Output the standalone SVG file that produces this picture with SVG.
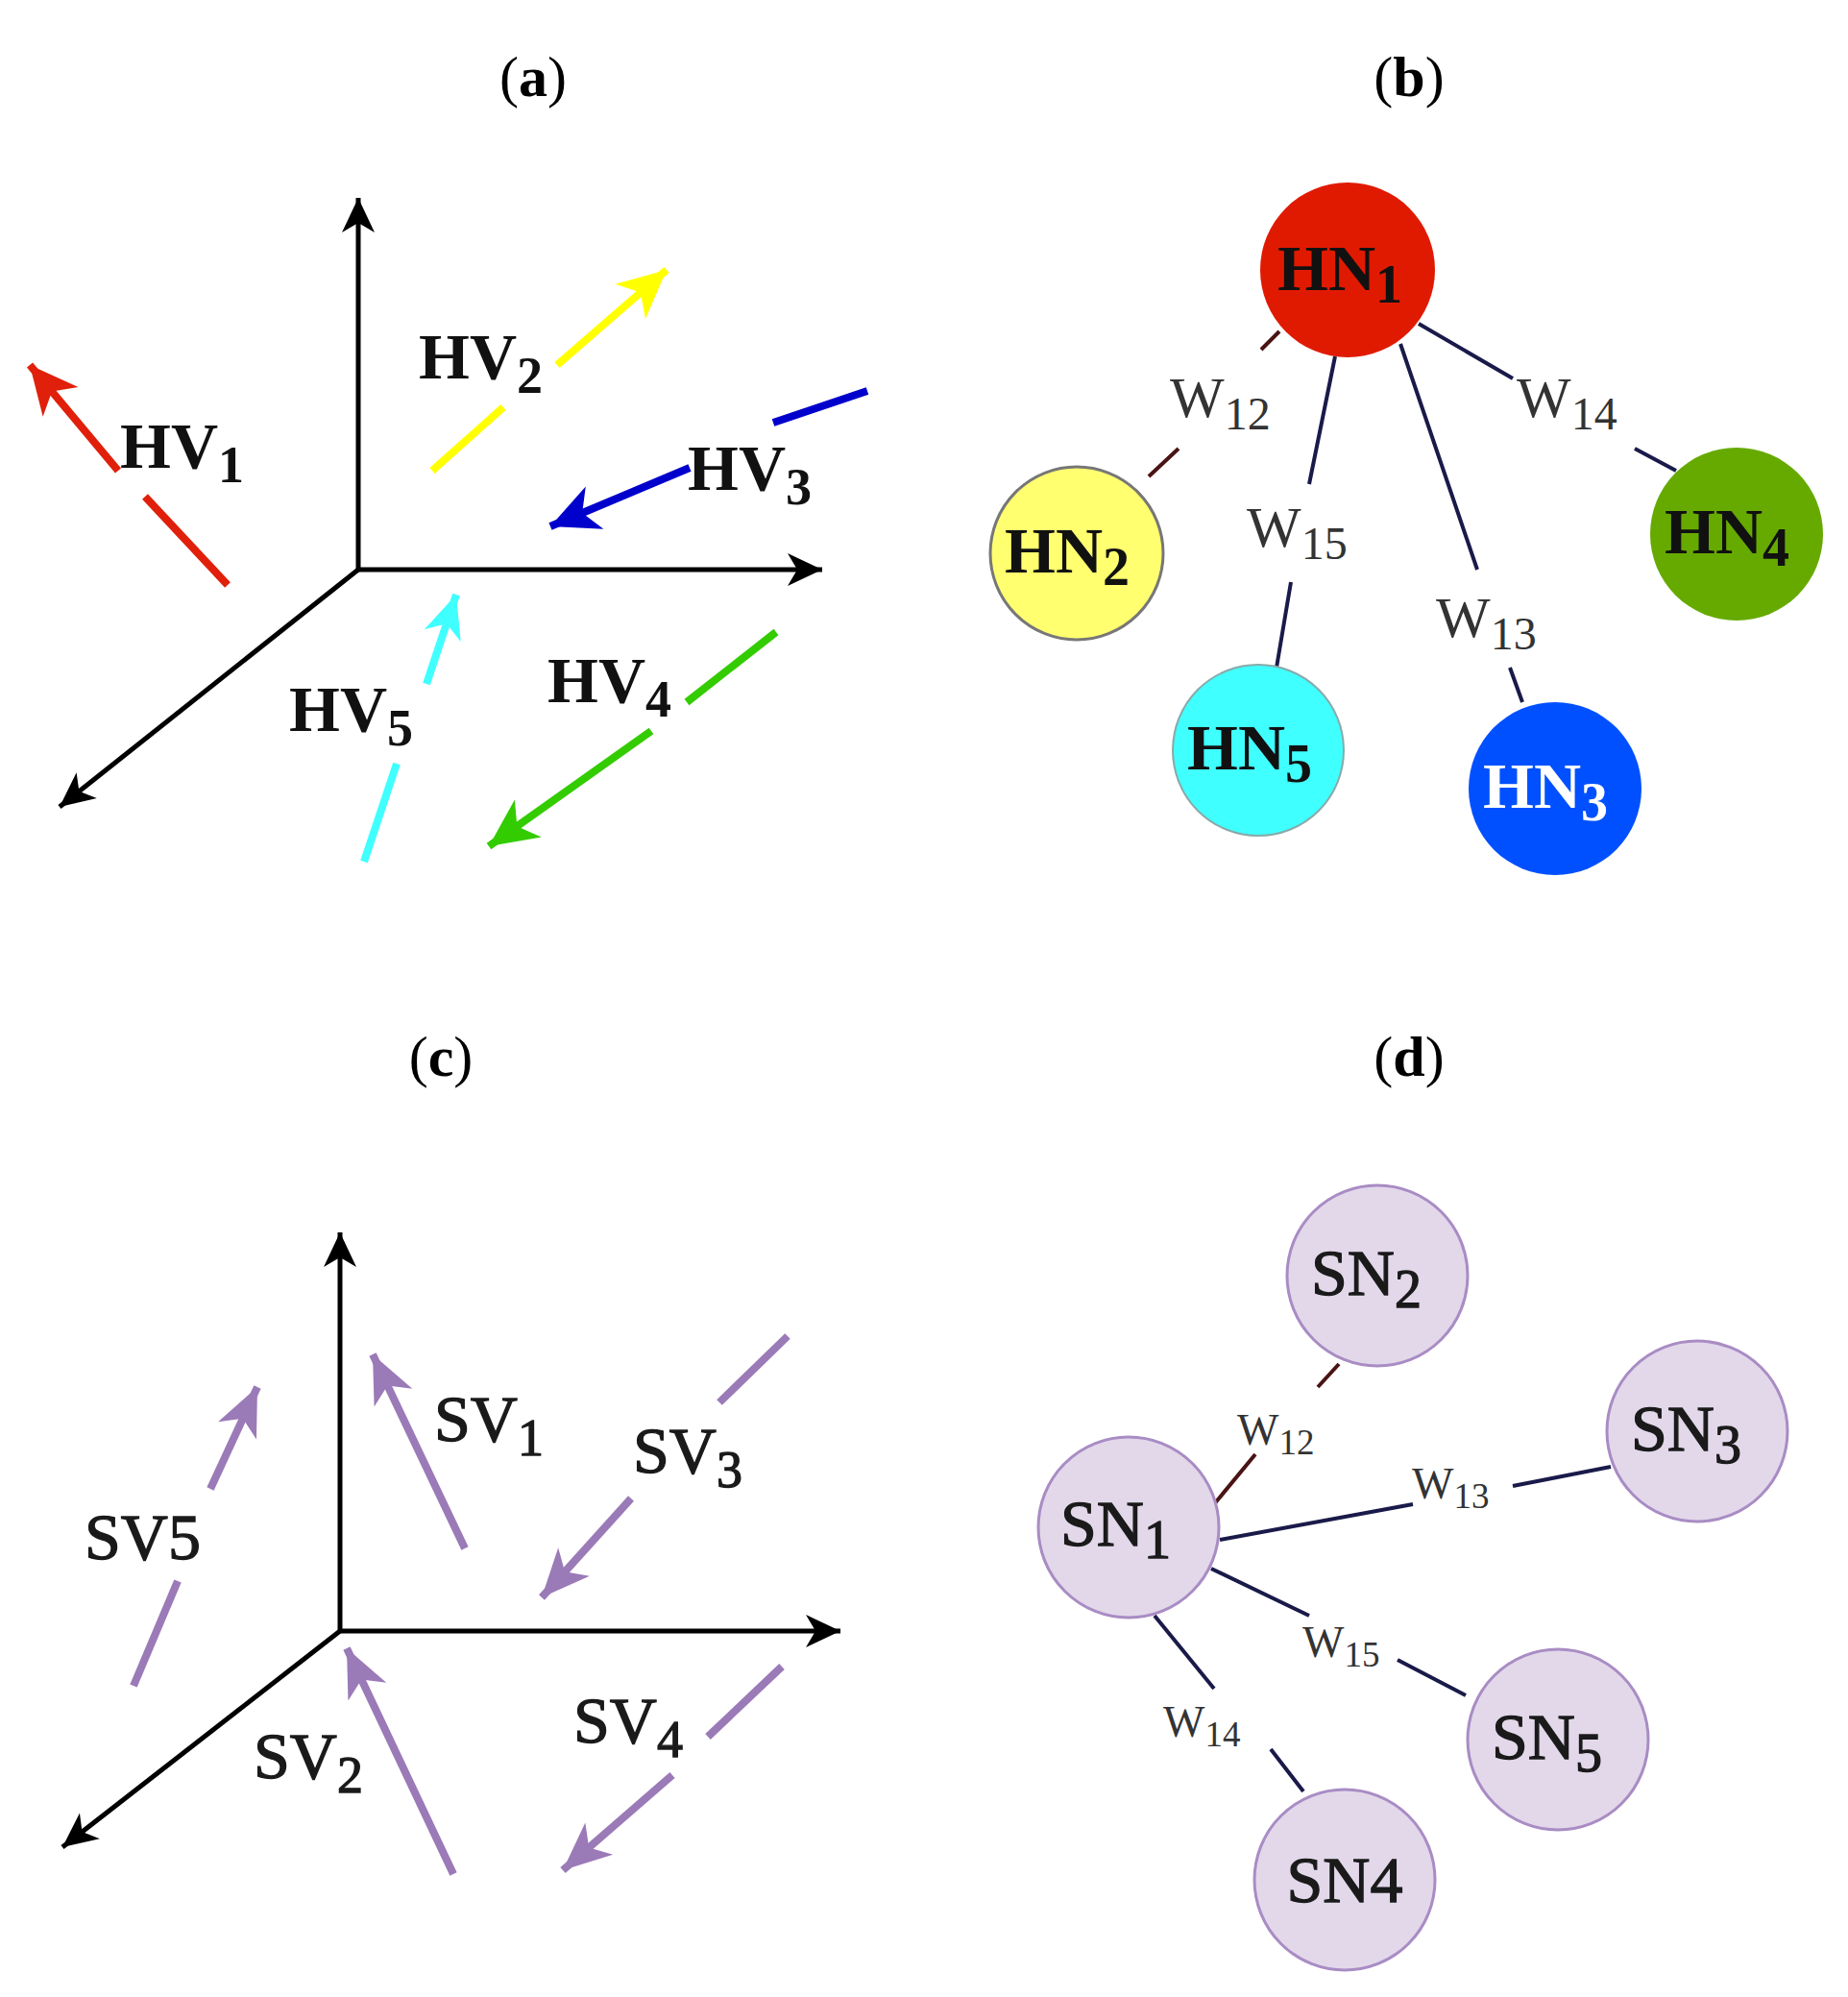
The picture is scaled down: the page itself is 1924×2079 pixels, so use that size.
<svg xmlns="http://www.w3.org/2000/svg" width="1924" height="2079" viewBox="0 0 1924 2079">
<style>
.t{font-family:"Liberation Serif",serif;font-size:60px;fill:#000;text-anchor:middle}
.tb{font-weight:bold}
.lb{font-family:"Liberation Serif",serif;font-size:68px;font-weight:bold;fill:#111}
.ls{font-family:"Liberation Serif",serif;font-size:68px;fill:#1a1a1a;stroke:#1a1a1a;stroke-width:1.3}
.w{font-family:"Liberation Serif",serif;font-size:60px;fill:#333}
.ws{font-family:"Liberation Serif",serif;font-size:46px;fill:#333}
.ax{stroke:#000;stroke-width:5;fill:none}
.v{fill:none;stroke-width:8;stroke-linecap:butt}
.e{stroke:#1a1a4a;stroke-width:4;fill:none}
.eb{stroke:#4a1414;stroke-width:4;fill:none}
.sn{fill:#e2d8ea;stroke:#a98cc4;stroke-width:3}
</style>
<defs>
<marker id="ak" markerUnits="userSpaceOnUse" viewBox="-40 -20 42 40" markerWidth="42" markerHeight="40" refX="0" refY="0" orient="auto"><path d="M0,0 L-36,-17 L-26,0 L-36,17 Z" fill="#000"/></marker>
<marker id="ar" markerUnits="userSpaceOnUse" viewBox="-55 -27 57 54" markerWidth="57" markerHeight="54" refX="0" refY="0" orient="auto"><path d="M0,0 L-50,-24 L-36,0 L-50,24 Z" fill="#e0200a"/></marker>
<marker id="ay" markerUnits="userSpaceOnUse" viewBox="-55 -27 57 54" markerWidth="57" markerHeight="54" refX="0" refY="0" orient="auto"><path d="M0,0 L-50,-24 L-36,0 L-50,24 Z" fill="#ffff00"/></marker>
<marker id="abl" markerUnits="userSpaceOnUse" viewBox="-55 -27 57 54" markerWidth="57" markerHeight="54" refX="0" refY="0" orient="auto"><path d="M0,0 L-50,-24 L-36,0 L-50,24 Z" fill="#0000cc"/></marker>
<marker id="ag" markerUnits="userSpaceOnUse" viewBox="-55 -27 57 54" markerWidth="57" markerHeight="54" refX="0" refY="0" orient="auto"><path d="M0,0 L-50,-24 L-36,0 L-50,24 Z" fill="#33cc00"/></marker>
<marker id="ac" markerUnits="userSpaceOnUse" viewBox="-55 -27 57 54" markerWidth="57" markerHeight="54" refX="0" refY="0" orient="auto"><path d="M0,0 L-45,-20 L-32,0 L-45,20 Z" fill="#40ffff"/></marker>
<marker id="ap" markerUnits="userSpaceOnUse" viewBox="-55 -27 57 54" markerWidth="57" markerHeight="54" refX="0" refY="0" orient="auto"><path d="M0,0 L-50,-22 L-36,0 L-50,22 Z" fill="#9b7ab8"/></marker>
</defs>

<!-- titles -->
<text class="t" x="555" y="100">(<tspan class="tb">a</tspan>)</text>
<text class="t" x="1467" y="100">(<tspan class="tb">b</tspan>)</text>
<text class="t" x="459" y="1120">(<tspan class="tb">c</tspan>)</text>
<text class="t" x="1467" y="1120">(<tspan class="tb">d</tspan>)</text>

<!-- panel a -->
<g id="panel-a">
<path class="ax" d="M373,593 L373,206" marker-end="url(#ak)"/>
<path class="ax" d="M373,593 L856,593" marker-end="url(#ak)"/>
<path class="ax" d="M373,593 L62,840" marker-end="url(#ak)"/>
<path class="v" stroke="#e0200a" d="M237,609 L151,517"/>
<path class="v" stroke="#e0200a" d="M123,490 L31,380" marker-end="url(#ar)"/>
<text class="lb" x="125" y="487">HV<tspan font-size="54" dy="15">1</tspan></text>
<path class="v" stroke="#ffff00" d="M450,490 L524,424"/>
<path class="v" stroke="#ffff00" d="M580,380 L694,281" marker-end="url(#ay)"/>
<text class="lb" x="436" y="394">HV<tspan font-size="54" dy="15">2</tspan></text>
<path class="v" stroke="#0000cc" d="M903,407 L805,440"/>
<path class="v" stroke="#0000cc" d="M718,487 L573,548" marker-end="url(#abl)"/>
<text class="lb" x="716" y="510">HV<tspan font-size="54" dy="15">3</tspan></text>
<path class="v" stroke="#33cc00" d="M808,658 L715,731"/>
<path class="v" stroke="#33cc00" d="M678,761 L509,881" marker-end="url(#ag)"/>
<text class="lb" x="570" y="731">HV<tspan font-size="54" dy="15">4</tspan></text>
<path class="v" stroke="#40ffff" stroke-width="7" d="M379,897 L413,795"/>
<path class="v" stroke="#40ffff" stroke-width="7" d="M444,712 L475,619" marker-end="url(#ac)"/>
<text class="lb" x="301" y="761">HV<tspan font-size="54" dy="15">5</tspan></text>
</g>

<!-- panel b -->
<g id="edges-b">
<path class="eb" d="M1332,345 L1313,364 M1227,467 L1196,496"/>
<path class="e" d="M1390,371 L1363,504 M1344,606 L1329,695"/>
<path class="e" d="M1458,358 L1538,593 M1572,695 L1585,731"/>
<path class="e" d="M1477,337 L1575,394 M1702,467 L1745,490"/>
<text class="w" x="1218" y="434">W<tspan font-size="48" dy="13">12</tspan></text>
<text class="w" x="1298" y="569">W<tspan font-size="48" dy="13">15</tspan></text>
<text class="w" x="1495" y="663">W<tspan font-size="48" dy="13">13</tspan></text>
<text class="w" x="1579" y="434">W<tspan font-size="48" dy="13">14</tspan></text>
</g>
<g id="HN1"><circle cx="1403" cy="281" r="91" fill="#e01a00"/><text class="lb" x="1330" y="302">HN<tspan font-size="56" dy="13">1</tspan></text></g>
<g id="HN2"><circle cx="1121" cy="576" r="90" fill="#ffff70" stroke="#777" stroke-width="3"/><text class="lb" x="1046" y="596">HN<tspan font-size="56" dy="13">2</tspan></text></g>
<g id="HN5"><circle cx="1310" cy="781" r="89" fill="#40ffff" stroke="#8aa" stroke-width="2"/><text class="lb" x="1236" y="801">HN<tspan font-size="56" dy="13">5</tspan></text></g>
<g id="HN3"><circle cx="1619" cy="821" r="90" fill="#0050ff"/><text class="lb" x="1544" y="841" style="fill:#fff">HN<tspan font-size="56" dy="13">3</tspan></text></g>
<g id="HN4"><circle cx="1808" cy="556" r="90" fill="#66aa00"/><text class="lb" x="1733" y="576">HN<tspan font-size="56" dy="13">4</tspan></text></g>

<!-- panel c -->
<g id="panel-c">
<path class="ax" d="M354,1698 L354,1283" marker-end="url(#ak)"/>
<path class="ax" d="M354,1698 L875,1698" marker-end="url(#ak)"/>
<path class="ax" d="M354,1698 L65,1923" marker-end="url(#ak)"/>
<path class="v" stroke="#9b7ab8" d="M484,1612 L388,1410" marker-end="url(#ap)"/>
<text class="ls" x="452" y="1500">SV<tspan font-size="54" dy="15">1</tspan></text>
<path class="v" stroke="#9b7ab8" d="M820,1391 L749,1460"/>
<path class="v" stroke="#9b7ab8" d="M657,1560 L564,1663" marker-end="url(#ap)"/>
<text class="ls" x="659" y="1533">SV<tspan font-size="54" dy="15">3</tspan></text>
<path class="v" stroke="#9b7ab8" d="M139,1755 L185,1646"/>
<path class="v" stroke="#9b7ab8" d="M219,1550 L268,1444" marker-end="url(#ap)"/>
<text class="ls" x="88" y="1623">SV5</text>
<path class="v" stroke="#9b7ab8" stroke-width="5" d="M472,1951 L361,1716" marker-end="url(#ap)"/>
<text class="ls" x="264" y="1851">SV<tspan font-size="54" dy="15">2</tspan></text>
<path class="v" stroke="#9b7ab8" d="M814,1735 L737,1808"/>
<path class="v" stroke="#9b7ab8" d="M700,1848 L586,1947" marker-end="url(#ap)"/>
<text class="ls" x="597" y="1814">SV<tspan font-size="54" dy="15">4</tspan></text>
</g>

<!-- panel d -->
<g id="edges-d">
<path class="eb" d="M1394,1420 L1372,1444 M1307,1514 L1264,1566"/>
<path class="e" d="M1270,1603 L1471,1566 M1575,1547 L1677,1527"/>
<path class="e" d="M1261,1633 L1363,1682 M1455,1728 L1526,1765"/>
<path class="e" d="M1202,1682 L1264,1758 M1323,1821 L1357,1865"/>
<text class="ws" x="1288" y="1504">W<tspan font-size="37" dy="10">12</tspan></text>
<text class="ws" x="1470" y="1560">W<tspan font-size="37" dy="10">13</tspan></text>
<text class="ws" x="1356" y="1725">W<tspan font-size="37" dy="10">15</tspan></text>
<text class="ws" x="1211" y="1808">W<tspan font-size="37" dy="10">14</tspan></text>
</g>
<g id="SN1"><circle class="sn" cx="1175" cy="1590" r="94"/><text class="ls" x="1104" y="1609">SN<tspan font-size="56" dy="13">1</tspan></text></g>
<g id="SN2"><circle class="sn" cx="1434" cy="1328" r="94"/><text class="ls" x="1365" y="1348">SN<tspan font-size="56" dy="13">2</tspan></text></g>
<g id="SN3"><circle class="sn" cx="1767" cy="1490" r="94"/><text class="ls" x="1698" y="1510">SN<tspan font-size="56" dy="13">3</tspan></text></g>
<g id="SN5"><circle class="sn" cx="1622" cy="1811" r="94"/><text class="ls" x="1553" y="1831">SN<tspan font-size="56" dy="13">5</tspan></text></g>
<g id="SN4"><circle class="sn" cx="1400" cy="1957" r="94"/><text class="ls" x="1400" y="1980" text-anchor="middle">SN4</text></g>
</svg>
